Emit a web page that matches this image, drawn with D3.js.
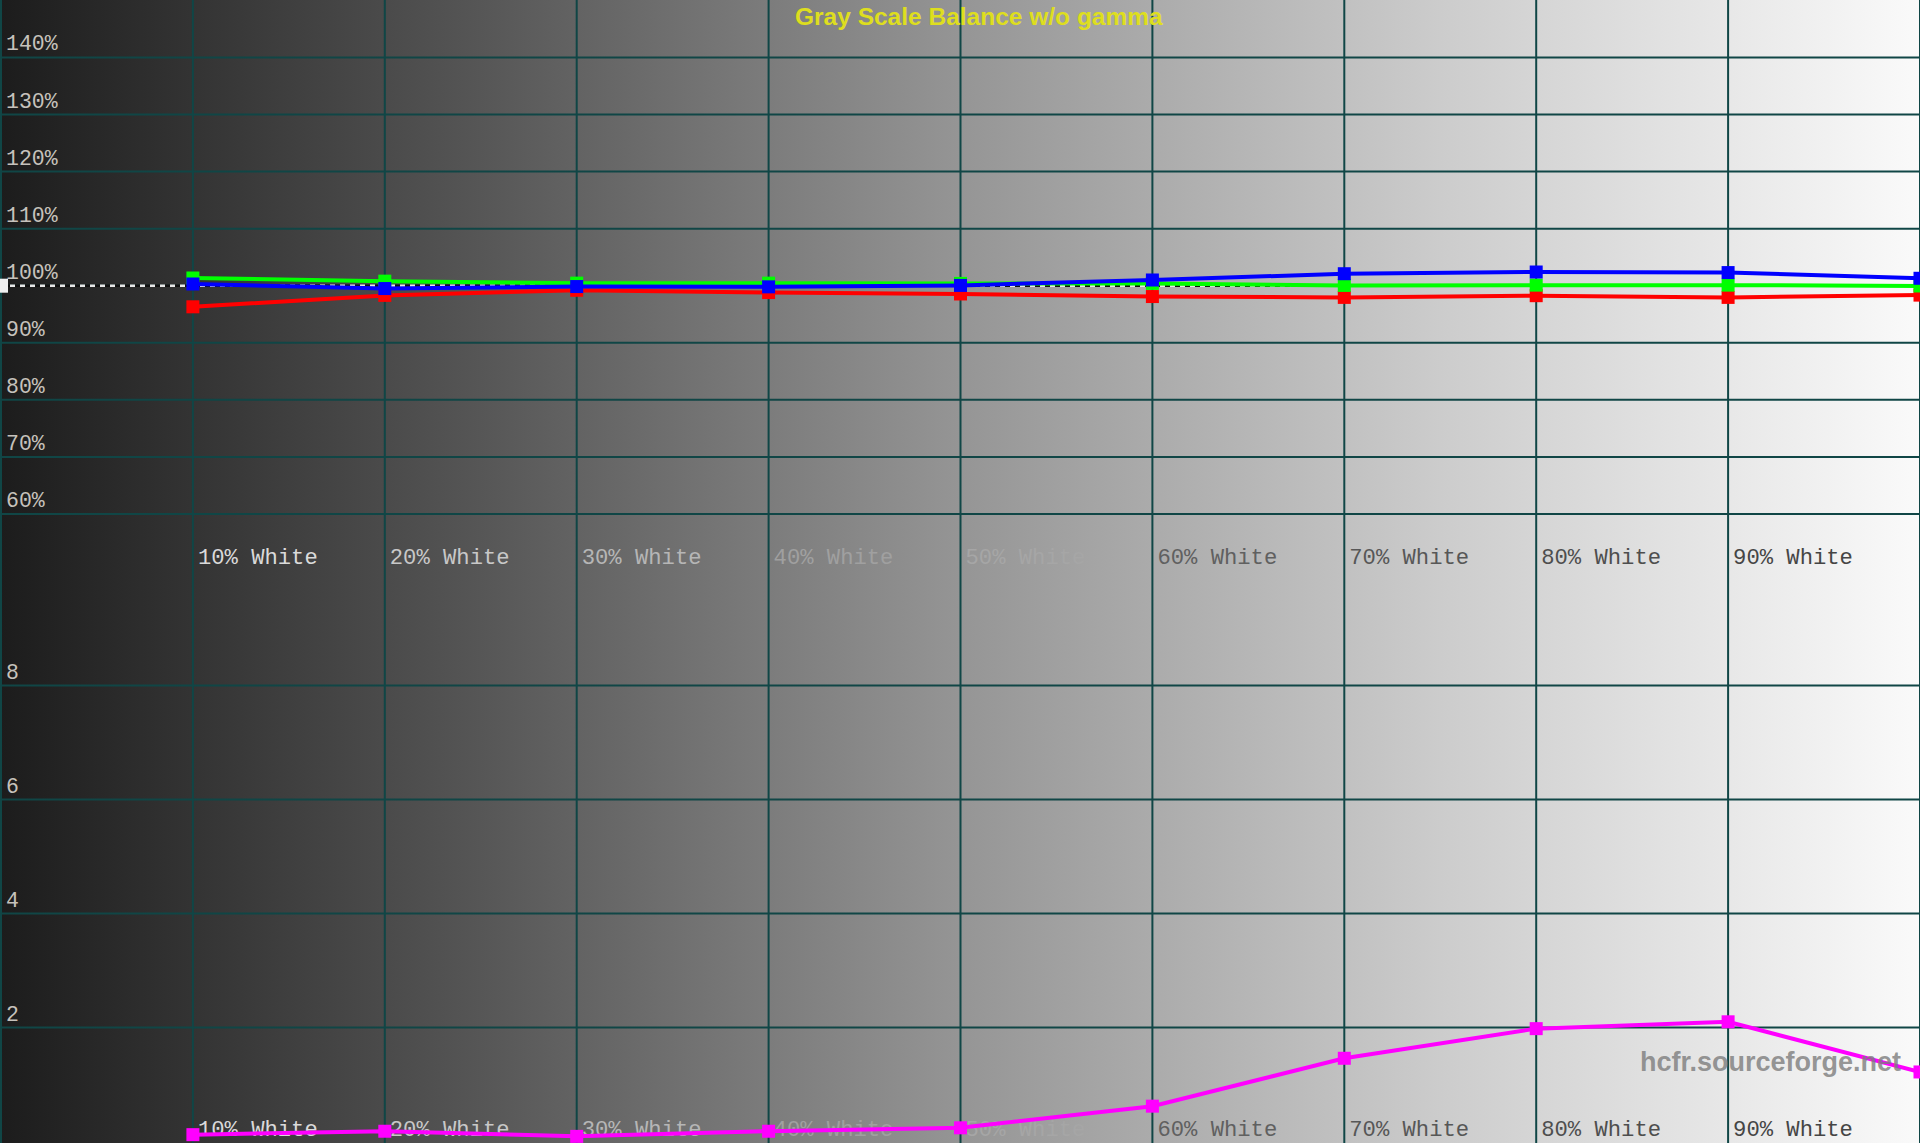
<!DOCTYPE html>
<html><head><meta charset="utf-8">
<script src="https://cdn.jsdelivr.net/npm/d3@7"></script>
<style>html,body{margin:0;padding:0;background:#000;overflow:hidden}</style>
</head><body>
<svg id="chart" width="1920" height="1143"></svg>
<script>
// ---- data ----
const steps = [10, 20, 30, 40, 50, 60, 70, 80, 90, 100];
const stepLabels = ["10% White", "20% White", "30% White", "40% White", "50% White",
                    "60% White", "70% White", "80% White", "90% White"];
const redVals   = [96.3, 98.3, 99.2, 98.8, 98.55, 98.1, 97.95, 98.25, 97.95, 98.35];
const greenVals = [101.35, 100.8, 100.45, 100.45, 100.4, 100.4, 100.05, 100.1, 100.1, 99.95];
const blueVals  = [100.3, 99.5, 99.85, 99.8, 100.05, 101.0, 102.1, 102.4, 102.3, 101.3];
const deltaEVals = [0.12, 0.18, 0.09, 0.18, 0.24, 0.62, 1.46, 1.98, 2.10, 1.22];
const topTicks = [60, 70, 80, 90, 100, 110, 120, 130, 140];
const bottomTicks = [2, 4, 6, 8];
const titleText = "Gray Scale Balance w/o gamma";
const watermarkText = "hcfr.sourceforge.net";

// ---- layout ----
const W = 1920, H = 1143;
const svg = d3.select("#chart");
const x = d3.scaleLinear().domain([0, 100]).range([1, 1920]);
const yTop = d3.scaleLinear().domain([50, 150]).range([571, 0.4]);
const yBot = d3.scaleLinear().domain([0, 10]).range([1141.5, 571.5]);

// background gradient
const defs = svg.append("defs");
const grad = defs.append("linearGradient").attr("id", "bg")
  .attr("x1", "0%").attr("x2", "100%").attr("y1", "0%").attr("y2", "0%");
[[0, "#1c1c1c"], [0.25, "#565656"], [0.5, "#959595"], [0.75, "#cccccc"], [1, "#fafafa"]]
  .forEach(([o, c]) => grad.append("stop").attr("offset", o).attr("stop-color", c));
svg.append("rect").attr("width", W).attr("height", H).attr("fill", "url(#bg)");

const gridColor = "#104646";
const grid = svg.append("g").attr("stroke", gridColor).attr("stroke-width", 2);
grid.selectAll("line.v").data(d3.range(0, 101, 10)).join("line")
  .attr("x1", d => x(d)).attr("x2", d => x(d)).attr("y1", 0).attr("y2", H);
grid.selectAll("line.ht").data(topTicks).join("line")
  .attr("x1", 0).attr("x2", W).attr("y1", d => yTop(d)).attr("y2", d => yTop(d));
const gb = svg.append("g").attr("stroke", gridColor).attr("stroke-width", 2);
gb.selectAll("line").data(bottomTicks).join("line")
  .attr("x1", 0).attr("x2", W).attr("y1", d => yBot(d)).attr("y2", d => yBot(d));

const mono = "'Courier New', 'Liberation Mono', monospace";

// y tick labels
svg.append("g").selectAll("text").data(topTicks).join("text")
  .attr("x", 6).attr("y", d => yTop(d) - 7)
  .attr("font-family", mono).attr("font-size", 21.5).attr("fill", "#c6c2bc")
  .text(d => d + "%");
svg.append("g").selectAll("text").data(bottomTicks).join("text")
  .attr("x", 6).attr("y", d => yBot(d) - 7)
  .attr("font-family", mono).attr("font-size", 21.5).attr("fill", "#c6c2bc")
  .text(d => d);

// x labels (colour depends on background brightness)
function labelFill(p) {
  let g;
  if (p <= 30) g = Math.round(218 - 1.8 * (p - 10));
  else if (p <= 50) g = Math.round(160 + 0.6 * (p - 40));
  else g = Math.round(96 - 0.9 * (p - 60));
  return d3.rgb(g, g, g).toString();
}
[yTop(50) - 7, yBot(0) - 6].forEach(by => {
  svg.append("g").selectAll("text").data(stepLabels).join("text")
    .attr("x", (d, i) => x(steps[i]) + 5).attr("y", by)
    .attr("font-family", mono).attr("font-size", 22.2)
    .attr("fill", (d, i) => labelFill(steps[i]))
    .text(d => d);
});

// 100% reference dashed line
const refY = yTop(100);
svg.append("line").attr("x1", 0).attr("x2", W).attr("y1", refY).attr("y2", refY)
  .attr("stroke", "#111").attr("stroke-width", 2.5).attr("stroke-dasharray", "5,5").attr("stroke-dashoffset", 5);
svg.append("line").attr("x1", 0).attr("x2", W).attr("y1", refY).attr("y2", refY)
  .attr("stroke", "#e8e8e8").attr("stroke-width", 2.5).attr("stroke-dasharray", "5,5");
svg.append("rect").attr("x", 0).attr("y", refY - 7).attr("width", 8).attr("height", 14).attr("fill", "#f0f0f0");

// series
function drawSeries(vals, yScale, color) {
  const pts = steps.map((s, i) => [x(s), yScale(vals[i])]);
  svg.append("path").attr("d", d3.line()(pts)).attr("fill", "none")
    .attr("stroke", color).attr("stroke-width", 4);
  svg.append("g").selectAll("rect").data(pts).join("rect")
    .attr("x", d => d[0] - 6.5).attr("y", d => d[1] - 6.5)
    .attr("width", 13).attr("height", 13).attr("fill", color);
}
drawSeries(redVals, yTop, "#ff0000");
drawSeries(greenVals, yTop, "#00ff00");
drawSeries(blueVals, yTop, "#0000ff");
drawSeries(deltaEVals, yBot, "#ff00ff");

// title
svg.append("text").attr("x", 795).attr("y", 25)
  .attr("font-family", "Arial, 'Liberation Sans', sans-serif").attr("font-weight", "bold")
  .attr("font-size", 24.5).attr("fill", "#dede1e").text(titleText);

// watermark
svg.append("text").attr("x", 1640).attr("y", 1071)
  .attr("font-family", "Arial, 'Liberation Sans', sans-serif").attr("font-weight", "bold")
  .attr("font-size", 27).attr("fill", "#7c7c7c").attr("fill-opacity", 0.8).text(watermarkText);
</script>
</body></html>
